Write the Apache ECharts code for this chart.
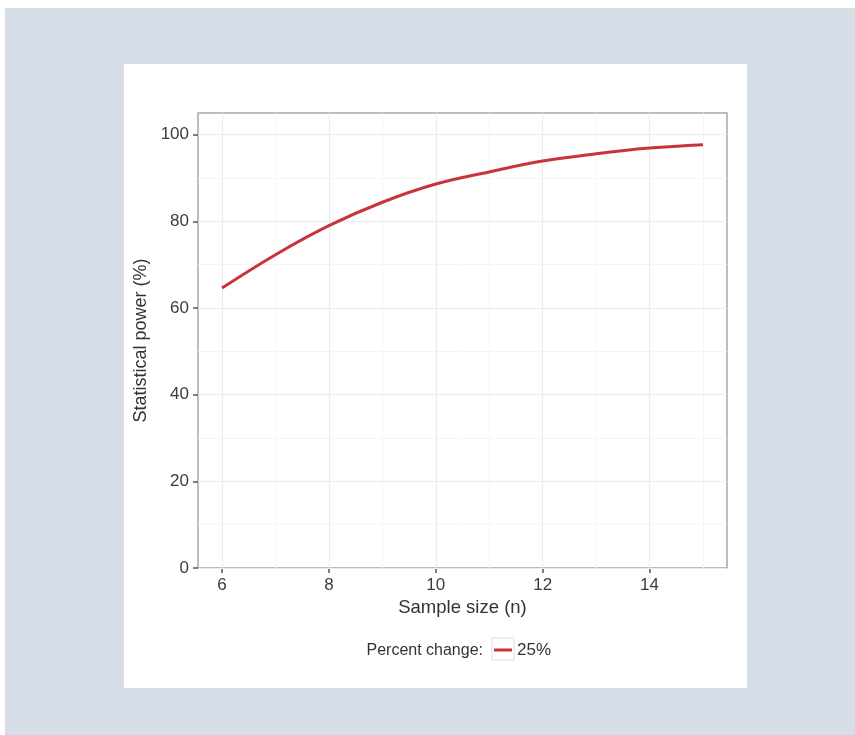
<!DOCTYPE html>
<html>
<head>
<meta charset="utf-8">
<script src="https://cdn.jsdelivr.net/npm/echarts@6/dist/echarts.min.js"></script>
<style>
  html, body { margin: 0; padding: 0; width: 855px; height: 735px; background: #ffffff; overflow: hidden; }
  #frame { position: absolute; left: 5px; top: 8px; width: 850px; height: 727px; background: #d6dde6; }
  #panel { position: absolute; left: 124px; top: 64px; width: 623px; height: 624px; background: #ffffff; }
  #chart { position: absolute; left: 0; top: 0; width: 855px; height: 735px; }
</style>
</head>
<body>
<div id="frame"></div>
<div id="panel"></div>
<div id="chart"></div>
<script>
// Data
const sampleSize = [6, 7, 8, 9, 10, 11, 12, 13, 14, 15];
const power25 = [64.6, 72.3, 79.0, 84.4, 88.6, 91.4, 93.9, 95.6, 96.9, 97.7];
const xTicks = [6, 8, 10, 12, 14];
const xMinor = [7, 9, 11, 13, 15];
const yTicks = [0, 20, 40, 60, 80, 100];
const yMinor = [10, 30, 50, 70, 90];
const legendTitle = 'Percent change:';
const seriesName = '25%';

const chart = echarts.init(document.getElementById('chart'), null, { renderer: 'canvas' });

const majorStyle = { color: '#ebebeb', width: 1.2, type: 'solid' };
const minorStyle = { color: '#f5f5f5', width: 1, type: 'solid' };
const gridLines = [];
xMinor.forEach(v => gridLines.push({ xAxis: v, lineStyle: minorStyle }));
yMinor.forEach(v => gridLines.push({ yAxis: v, lineStyle: minorStyle }));
xTicks.forEach(v => gridLines.push({ xAxis: v, lineStyle: majorStyle }));
yTicks.forEach(v => gridLines.push({ yAxis: v, lineStyle: majorStyle }));

const font = 'Liberation Sans, Arial, sans-serif';

chart.setOption({
  animation: false,
  textStyle: { fontFamily: font },
  grid: {
    left: 198, top: 113, right: 128, bottom: 167,
    show: true, borderColor: '#a8a8a8', borderWidth: 1.5, backgroundColor: 'transparent',
    containLabel: false
  },
  xAxis: {
    type: 'value', min: 5.55, max: 15.45,
    name: 'Sample size (n)', nameLocation: 'middle', nameGap: 24,
    nameTextStyle: { fontSize: 18.5, color: '#333333', fontFamily: font },
    axisLine: { show: false },
    axisTick: { show: true, customValues: xTicks, length: 5, inside: false, lineStyle: { color: '#555555', width: 1.5 } },
    axisLabel: { customValues: xTicks, fontSize: 17, color: '#3c3c3c', margin: 9, fontFamily: font },
    splitLine: { show: false }
  },
  yAxis: {
    type: 'value', min: 0, max: 105,
    name: 'Statistical power (%)', nameLocation: 'middle', nameGap: 34,
    nameTextStyle: { fontSize: 18, color: '#333333', fontFamily: font },
    axisLine: { show: false },
    axisTick: { show: true, customValues: yTicks, length: 5, inside: false, lineStyle: { color: '#555555', width: 1.5 } },
    axisLabel: { customValues: yTicks, fontSize: 17, color: '#3c3c3c', margin: 9, fontFamily: font },
    splitLine: { show: false }
  },
  legend: {
    left: 494, top: 641, padding: 0,
    itemWidth: 18, itemHeight: 3,
    icon: 'rect',
    data: [seriesName],
    itemStyle: { color: '#c7343b' },
    textStyle: { fontSize: 17, color: '#333333', fontFamily: font, lineHeight: 18 }
  },
  graphic: [
    { type: 'rect', z: 1, shape: { x: 492, y: 638, width: 22, height: 22 },
      style: { fill: '#ffffff', stroke: '#dcdcdc', lineWidth: 1 } },
    { type: 'text', z: 1, x: 483, y: 651,
      style: { text: legendTitle, fontSize: 16, fill: '#333333', fontFamily: font,
               textAlign: 'right', textVerticalAlign: 'middle' } }
  ],
  series: [
    {
      type: 'line', name: seriesName,
      data: sampleSize.map((x, i) => [x, power25[i]]),
      showSymbol: false, symbol: 'none',
      smooth: 0.4,
      lineStyle: { color: '#c7343b', width: 3 },
      itemStyle: { color: '#c7343b' },
      z: 3,
      markLine: {
        silent: true, symbol: ['none', 'none'], label: { show: false },
        animation: false, z: 1,
        data: gridLines
      }
    }
  ]
});
</script>
</body>
</html>
